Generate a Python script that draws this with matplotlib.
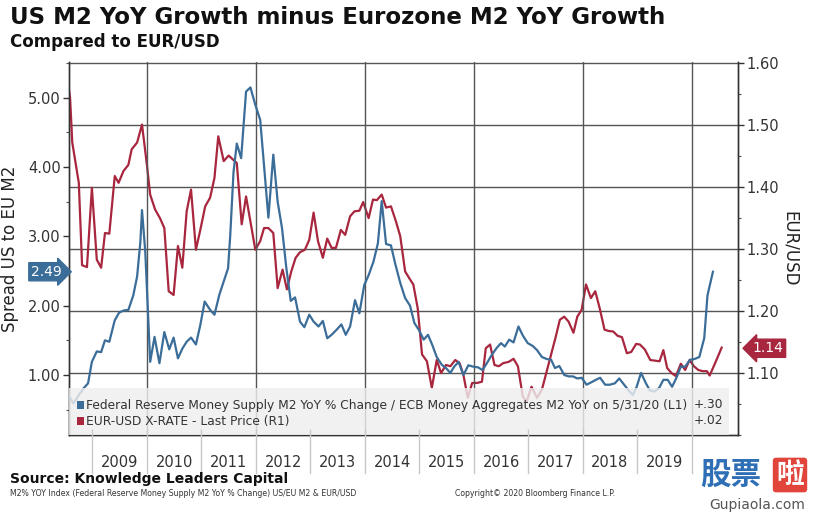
import matplotlib
matplotlib.use("Agg")
import matplotlib.pyplot as plt
from matplotlib.ticker import MultipleLocator, FixedLocator, FormatStrFormatter
from matplotlib.lines import Line2D

# ---- data (decimal years) ----
blue_dates = [2008.56, 2008.65, 2008.75, 2008.84, 2008.92, 2008.99, 2009.08, 2009.16, 2009.23, 2009.31,
              2009.41, 2009.49, 2009.57, 2009.66, 2009.75, 2009.82, 2009.88, 2009.91, 2009.97, 2010.06,
              2010.14, 2010.23, 2010.32, 2010.41, 2010.49, 2010.57, 2010.65, 2010.73, 2010.81, 2010.90,
              2010.98, 2011.06, 2011.16, 2011.24, 2011.33, 2011.41, 2011.49, 2011.53, 2011.59, 2011.65,
              2011.73, 2011.82, 2011.90, 2011.99, 2012.08, 2012.16, 2012.23, 2012.32, 2012.40, 2012.48,
              2012.56, 2012.64, 2012.72, 2012.81, 2012.89, 2012.98, 2013.06, 2013.15, 2013.23, 2013.31,
              2013.39, 2013.49, 2013.57, 2013.65, 2013.73, 2013.82, 2013.90, 2013.99, 2014.07, 2014.16,
              2014.24, 2014.31, 2014.39, 2014.48, 2014.56, 2014.65, 2014.74, 2014.83, 2014.91, 2015.00,
              2015.08, 2015.16, 2015.24, 2015.32, 2015.41, 2015.49, 2015.57, 2015.64, 2015.72, 2015.81,
              2015.90, 2015.99, 2016.08, 2016.16, 2016.24, 2016.33, 2016.42, 2016.50, 2016.57, 2016.65,
              2016.73, 2016.82, 2016.90, 2016.99, 2017.08, 2017.16, 2017.25, 2017.34, 2017.42, 2017.49,
              2017.57, 2017.66, 2017.74, 2017.82, 2017.90, 2017.98, 2018.07, 2018.17, 2018.24, 2018.32,
              2018.41, 2018.50, 2018.59, 2018.67, 2018.76, 2018.84, 2018.92, 2018.99, 2019.07, 2019.16,
              2019.23, 2019.31, 2019.40, 2019.48, 2019.56, 2019.64, 2019.72, 2019.80, 2019.88, 2019.97,
              2020.05, 2020.14, 2020.23, 2020.29, 2020.39]
blue_vals = [0.71, 0.59, 0.71, 0.81, 0.88, 1.19, 1.34, 1.33, 1.50, 1.48,
             1.79, 1.90, 1.93, 1.94, 2.15, 2.42, 2.92, 3.38, 2.78, 1.19,
             1.55, 1.17, 1.62, 1.37, 1.54, 1.24, 1.38, 1.48, 1.54, 1.44,
             1.72, 2.06, 1.94, 1.87, 2.16, 2.35, 2.54, 3.02, 3.93, 4.34,
             4.13, 5.09, 5.15, 4.90, 4.68, 3.93, 3.27, 4.18, 3.50, 3.12,
             2.54, 2.07, 2.12, 1.77, 1.69, 1.87, 1.77, 1.70, 1.78, 1.53,
             1.58, 1.66, 1.73, 1.58, 1.70, 2.08, 1.89, 2.30, 2.44, 2.64,
             2.90, 3.51, 2.89, 2.87, 2.60, 2.33, 2.11, 2.00, 1.75, 1.64,
             1.51, 1.58, 1.43, 1.26, 1.15, 1.10, 1.03, 1.12, 1.19, 1.00,
             1.14, 1.12, 1.11, 1.07, 1.17, 1.29, 1.39, 1.46, 1.41, 1.51,
             1.47, 1.70, 1.57, 1.46, 1.42, 1.36, 1.26, 1.23, 1.22, 1.10,
             1.13, 1.00, 0.98, 0.98, 0.95, 0.96, 0.86, 0.90, 0.93, 0.96,
             0.86, 0.86, 0.88, 0.95, 0.86, 0.78, 0.71, 0.83, 1.03, 0.88,
             0.78, 0.76, 0.81, 0.93, 0.93, 0.83, 0.96, 1.12, 1.12, 1.22,
             1.23, 1.26, 1.53, 2.15, 2.49]

red_dates = [2008.56, 2008.59, 2008.63, 2008.75, 2008.81, 2008.90, 2008.99, 2009.08, 2009.16, 2009.23,
             2009.31, 2009.41, 2009.48, 2009.57, 2009.66, 2009.72, 2009.82, 2009.91, 2010.00, 2010.06,
             2010.15, 2010.24, 2010.32, 2010.40, 2010.49, 2010.57, 2010.65, 2010.73, 2010.81, 2010.90,
             2010.98, 2011.07, 2011.16, 2011.24, 2011.31, 2011.41, 2011.50, 2011.65, 2011.74, 2011.82,
             2011.90, 2011.99, 2012.08, 2012.15, 2012.23, 2012.32, 2012.40, 2012.49, 2012.57, 2012.65,
             2012.73, 2012.81, 2012.90, 2012.98, 2013.06, 2013.14, 2013.23, 2013.31, 2013.39, 2013.47,
             2013.56, 2013.64, 2013.73, 2013.81, 2013.90, 2013.97, 2014.07, 2014.15, 2014.22, 2014.31,
             2014.39, 2014.48, 2014.57, 2014.65, 2014.74, 2014.83, 2014.89, 2014.97, 2015.05, 2015.14,
             2015.23, 2015.32, 2015.40, 2015.49, 2015.57, 2015.66, 2015.74, 2015.81, 2015.89, 2015.97,
             2016.06, 2016.15, 2016.22, 2016.30, 2016.38, 2016.46, 2016.54, 2016.64, 2016.73, 2016.81,
             2016.90, 2016.97, 2017.06, 2017.16, 2017.25, 2017.33, 2017.42, 2017.50, 2017.58, 2017.66,
             2017.74, 2017.83, 2017.90, 2017.98, 2018.06, 2018.15, 2018.23, 2018.31, 2018.40, 2018.47,
             2018.56, 2018.64, 2018.72, 2018.81, 2018.89, 2018.98, 2019.05, 2019.14, 2019.24, 2019.33,
             2019.41, 2019.48, 2019.55, 2019.63, 2019.71, 2019.80, 2019.88, 2019.96, 2020.04, 2020.12,
             2020.20, 2020.28, 2020.33, 2020.43, 2020.55]
red_vals = [1.563, 1.544, 1.472, 1.407, 1.274, 1.271, 1.399, 1.283, 1.270, 1.326,
            1.325, 1.418, 1.407, 1.426, 1.436, 1.461, 1.472, 1.501, 1.436, 1.388,
            1.364, 1.350, 1.334, 1.232, 1.226, 1.305, 1.270, 1.361, 1.396, 1.299,
            1.331, 1.369, 1.383, 1.415, 1.482, 1.442, 1.451, 1.439, 1.340, 1.385,
            1.345, 1.299, 1.313, 1.334, 1.334, 1.326, 1.237, 1.267, 1.235, 1.264,
            1.286, 1.295, 1.299, 1.315, 1.359, 1.313, 1.286, 1.317, 1.302, 1.302,
            1.331, 1.323, 1.353, 1.361, 1.362, 1.376, 1.350, 1.380, 1.379, 1.388,
            1.367, 1.369, 1.345, 1.321, 1.264, 1.251, 1.243, 1.205, 1.130, 1.119,
            1.076, 1.121, 1.100, 1.113, 1.111, 1.121, 1.116, 1.097, 1.060, 1.084,
            1.084, 1.086, 1.140, 1.146, 1.113, 1.111, 1.116, 1.118, 1.123, 1.111,
            1.062, 1.054, 1.078, 1.060, 1.073, 1.100, 1.130, 1.157, 1.186, 1.191,
            1.183, 1.165, 1.191, 1.202, 1.243, 1.221, 1.232, 1.205, 1.170, 1.168,
            1.167, 1.160, 1.158, 1.132, 1.134, 1.147, 1.146, 1.138, 1.121, 1.120,
            1.119, 1.137, 1.108, 1.100, 1.095, 1.115, 1.105, 1.121, 1.111, 1.105,
            1.103, 1.103, 1.096, 1.116, 1.141]

year_labels = ["2009", "2010", "2011", "2012", "2013", "2014", "2015", "2016", "2017", "2018", "2019"]
left_ticks = [1.0, 2.0, 3.0, 4.0, 5.0]
right_ticks = [1.1, 1.2, 1.3, 1.4, 1.5, 1.6]
blue_last = "2.49"
red_last = "1.14"
legend_blue = "Federal Reserve Money Supply M2 YoY % Change / ECB Money Aggregates M2 YoY on 5/31/20 (L1)"
legend_red = "EUR-USD X-RATE - Last Price (R1)"
legend_blue_chg = "+.30"
legend_red_chg = "+.02"

BLUE = "#3b6d99"
RED = "#a8263e"
W, H = 814, 514

plt.rcParams['font.family'] = ['DejaVu Sans']
fig = plt.figure(figsize=(W / 100, H / 100), dpi=100)
fig.patch.set_facecolor("white")

L, R, B, T = 69, 738, 435, 62
ax = fig.add_axes([L / W, 1 - B / H, (R - L) / W, (B - T) / H])
ax2 = ax.twinx()

ax.set_xlim(2008.57, 2020.85)
ax.set_ylim(0.134, 5.517)
ax2.set_ylim(1.0, 1.602)

# grid
for yv in right_ticks:
    ax2.axhline(yv, color="#555555", lw=1.0, zorder=1)
for xv in range(2010, 2021, 2):
    ax.axvline(xv, color="#555555", lw=1.0, zorder=1)

ax.plot(blue_dates, blue_vals, color=BLUE, lw=1.6, zorder=3)
ax2.plot(red_dates, red_vals, color=RED, lw=1.6, zorder=3)
ax.set_zorder(ax2.get_zorder() + 1)
ax.patch.set_visible(False)

# y axes
ax.yaxis.set_major_locator(FixedLocator(left_ticks))
ax.yaxis.set_minor_locator(MultipleLocator(0.5))
ax.yaxis.set_major_formatter(FormatStrFormatter("%.2f"))
ax2.yaxis.set_major_locator(FixedLocator(right_ticks))
ax2.yaxis.set_minor_locator(MultipleLocator(0.05))
ax2.yaxis.set_major_formatter(FormatStrFormatter("%.2f"))
for a in (ax, ax2):
    a.tick_params(axis="y", which="major", length=4, width=1, colors="#333333", labelsize=10.5,
                  labelcolor="#333333", pad=2)
    a.tick_params(axis="y", which="minor", length=2, width=0.8, colors="#555555")
    for s in a.spines.values():
        s.set_color("#333333")
        s.set_linewidth(1.0)
ax.spines["top"].set_visible(False)
ax2.spines["top"].set_visible(False)

# x axis
ax.set_xticks(list(range(2009, 2021)))
ax.set_xticklabels([])
ax.tick_params(axis="x", direction="in", length=4, width=1, colors="#333333")
ax2.tick_params(axis="x", bottom=False)

ax.set_ylabel("Spread US to EU M2", fontsize=12, color="#222222", labelpad=6)
ax2.set_ylabel("EUR/USD", fontsize=12, color="#222222", rotation=270, labelpad=14)

# year separators and labels below axis
for xv in range(2009, 2021):
    xf = ax.transData.transform((xv, 0))[0]
    xf = fig.transFigure.inverted().transform((xf, 0))[0]
    fig.add_artist(Line2D([xf, xf], [1 - B / H, 1 - 473 / H], color="#c8c8c8", lw=1.0))
for i, lab in enumerate(year_labels):
    xc = 2009.5 + i
    ax.text(xc, -0.074, lab, transform=ax.get_xaxis_transform(), ha="center", va="center",
            fontsize=10.5, color="#333333", clip_on=False)

# legend box
ax.add_patch(plt.Rectangle((0, 0), (729 - L) / (R - L), (B - 388) / (B - T), transform=ax.transAxes,
                           facecolor="#eeeeee", alpha=0.82, edgecolor="none", zorder=4))
lx = 77
ax.add_patch(plt.Rectangle(((lx - L) / (R - L), (B - 409) / (B - T)), 7 / (R - L), 8 / (B - T),
                           transform=ax.transAxes, facecolor=BLUE, edgecolor="none", zorder=5))
ax.add_patch(plt.Rectangle(((lx - L) / (R - L), (B - 425) / (B - T)), 7 / (R - L), 8 / (B - T),
                           transform=ax.transAxes, facecolor=RED, edgecolor="none", zorder=5))
ax.text((86 - L) / (R - L), (B - 405) / (B - T), legend_blue, transform=ax.transAxes, fontsize=8.8,
        color="#333333", va="center", ha="left", zorder=6)
ax.text((86 - L) / (R - L), (B - 421) / (B - T), legend_red, transform=ax.transAxes, fontsize=8.8,
        color="#333333", va="center", ha="left", zorder=6)
ax.text((723 - L) / (R - L), (B - 405) / (B - T), legend_blue_chg, transform=ax.transAxes, fontsize=8.8,
        color="#333333", va="center", ha="right", zorder=6)
ax.text((723 - L) / (R - L), (B - 421) / (B - T), legend_red_chg, transform=ax.transAxes, fontsize=8.8,
        color="#333333", va="center", ha="right", zorder=6)

# last value tags
ax.text(-0.034, float(blue_last), blue_last, transform=ax.get_yaxis_transform(), ha="center", va="center",
        fontsize=10, color="white", clip_on=False, zorder=7,
        bbox=dict(boxstyle="rarrow,pad=0.15", fc=BLUE, ec=BLUE))
ax2.text(1.045, float(red_last), red_last, transform=ax2.get_yaxis_transform(), ha="center", va="center",
         fontsize=10, color="white", clip_on=False, zorder=7,
         bbox=dict(boxstyle="larrow,pad=0.15", fc=RED, ec=RED))

# titles
fig.text(10 / W, 1 - 18 / H, "US M2 YoY Growth minus Eurozone M2 YoY Growth", fontsize=16.5,
         fontweight="bold", color="#111111", ha="left", va="center")
fig.text(10 / W, 1 - 42 / H, "Compared to EUR/USD", fontsize=12, fontweight="bold",
         color="#111111", ha="left", va="center")

# footer
fig.text(10 / W, 1 - 479 / H, "Source: Knowledge Leaders Capital", fontsize=10, fontweight="bold",
         color="#111111", ha="left", va="center")
fig.text(10 / W, 1 - 493 / H,
         "M2% YOY Index (Federal Reserve Money Supply M2 YoY % Change) US/EU M2 & EUR/USD",
         fontsize=5.6, color="#333333", ha="left", va="center")
fig.text(455 / W, 1 - 493 / H, "Copyright\u00a9 2020 Bloomberg Finance L.P.", fontsize=5.6,
         color="#333333", ha="left", va="center")

# watermark
fig.text(700 / W, 1 - 475 / H, "股票", fontsize=22, fontweight="bold", color="#2f6fb6",
         family=["Noto Sans CJK SC", "DejaVu Sans"], ha="left", va="center")
fig.text(790 / W, 1 - 475 / H, "啦", fontsize=20, fontweight="bold", color="white",
         family=["Noto Sans CJK SC", "DejaVu Sans"], ha="center", va="center",
         bbox=dict(boxstyle="round,pad=0.12", fc="#e0443a", ec="none"))
fig.text(757 / W, 1 - 505 / H, "Gupiaola.com", fontsize=10, color="#555555", ha="center", va="center")

fig.savefig("out.png", dpi=100, facecolor="white")
